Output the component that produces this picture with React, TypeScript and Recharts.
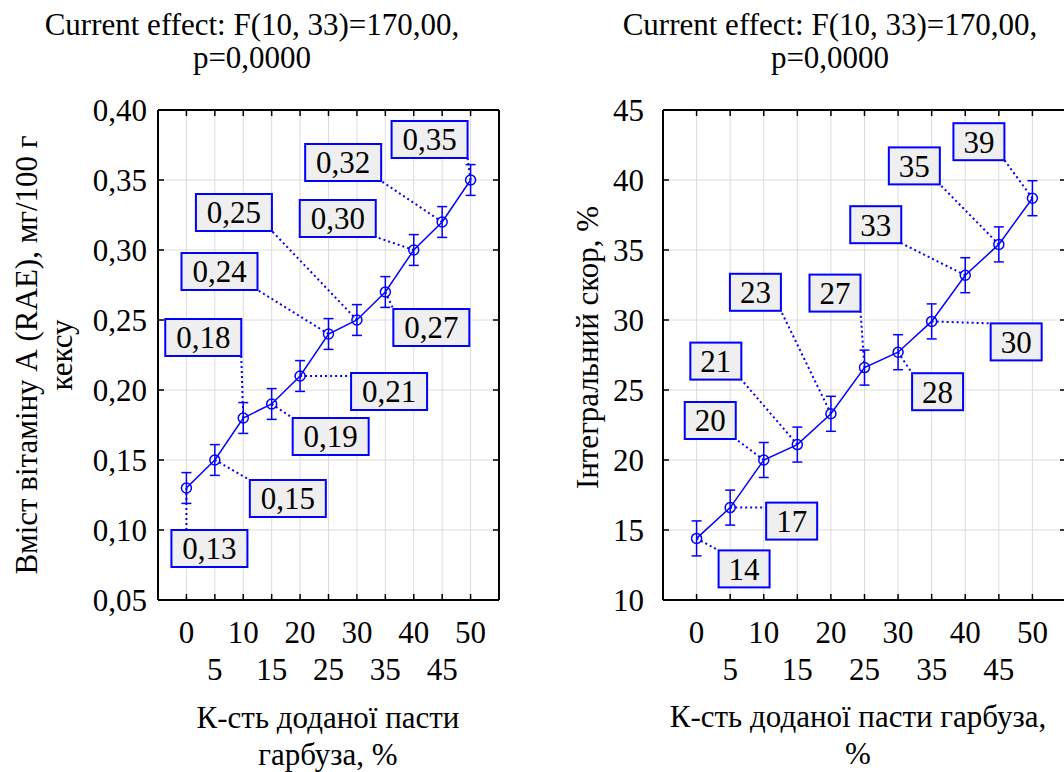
import {
  ComposedChart,
  Line,
  XAxis,
  YAxis,
  CartesianGrid,
  ErrorBar,
  LabelList,
} from "recharts";

const FONT = '"Liberation Serif", "Times New Roman", Times, "DejaVu Serif", serif';
const BLUE = "#0000ff";

// shared x categories (% of pumpkin paste)
const X_TICKS = [0, 5, 10, 15, 20, 25, 30, 35, 40, 45, 50];

// left panel: vitamin A
const VIT_A = [0.13, 0.15, 0.18, 0.19, 0.21, 0.24, 0.25, 0.27, 0.3, 0.32, 0.35];
const VIT_A_ERR = [0.011, 0.011, 0.011, 0.011, 0.011, 0.011, 0.011, 0.011, 0.011, 0.011, 0.011];
const VIT_A_LABELS = ["0,13", "0,15", "0,18", "0,19", "0,21", "0,24", "0,25", "0,27", "0,30", "0,32", "0,35"];
const VIT_A_TICKS = [0.05, 0.1, 0.15, 0.2, 0.25, 0.3, 0.35, 0.4];

// right panel: integral score
const SCORE = [14.4, 16.6, 20.0, 21.1, 23.3, 26.6, 27.7, 29.9, 33.2, 35.4, 38.7];
const SCORE_ERR = [1.25, 1.25, 1.25, 1.25, 1.25, 1.25, 1.25, 1.25, 1.25, 1.25, 1.25];
const SCORE_LABELS = ["14", "17", "20", "21", "23", "27", "28", "30", "33", "35", "39"];
const SCORE_TICKS = [10, 15, 20, 25, 30, 35, 40, 45];

// callout box placement relative to each point (px)
const VIT_A_CALLOUTS = [
  [-15, 42], [35, 20], [-78, -99], [21, 14], [51, -3], [-147, -81],
  [-161, -126], [8, 17], [-114, -50], [-137, -78], [-79, -59],
];
const SCORE_CALLOUTS = [
  [22, 12], [36, -5], [-79, -58], [-107, -102], [-101, -140], [-55, -93],
  [14, 21], [59, 2], [-115, -69], [-110, -97], [-79, -75],
];

const BOX_H = 37;

const clamp = (v: number, lo: number, hi: number) => Math.max(lo, Math.min(hi, v));

function makeCallout(labels: string[], offsets: number[][], boxW: number) {
  return (props: any) => {
    const index = props.index;
    const px = props.x ?? props.viewBox?.x;
    const py = props.y ?? props.viewBox?.y;
    if (px == null || py == null || index == null) return null;
    const [dx, dy] = offsets[index];
    const bx = px + dx;
    const by = py + dy;
    const ex = clamp(px, bx, bx + boxW);
    const ey = clamp(py, by, by + BOX_H);
    return (
      <g>
        <line x1={px} y1={py} x2={ex} y2={ey} stroke={BLUE} strokeWidth={2} strokeDasharray="2 3" />
        <rect x={bx} y={by} width={boxW} height={BOX_H} fill="#efefef" stroke={BLUE} strokeWidth={2} />
        <text
          x={bx + boxW / 2}
          y={by + BOX_H / 2}
          dy="0.35em"
          textAnchor="middle"
          fontSize={31}
          fontFamily={FONT}
          fill="#000"
        >
          {labels[index]}
        </text>
      </g>
    );
  };
}

const BottomTick = (props: any) => {
  const { x, y, payload } = props;
  const i = X_TICKS.indexOf(payload.value);
  return (
    <g>
      <line x1={x} y1={y} x2={x} y2={y - 6} stroke="#000" strokeWidth={1.5} />
      <text x={x} y={y + (i % 2 ? 80 : 43)} textAnchor="middle" fontSize={31} fontFamily={FONT} fill="#000">
        {payload.value}
      </text>
    </g>
  );
};

const TopTick = (props: any) => (
  <line x1={props.x} y1={props.y} x2={props.x} y2={props.y + 6} stroke="#000" strokeWidth={1.5} />
);

const RightTick = (props: any) => (
  <line x1={props.x} y1={props.y} x2={props.x - 6} y2={props.y} stroke="#000" strokeWidth={1.5} />
);

const makeLeftTick = (gap: number, fmt: (v: number) => string) => (props: any) => {
  const { x, y, payload } = props;
  return (
    <g>
      <line x1={x} y1={y} x2={x + 6} y2={y} stroke="#000" strokeWidth={1.5} />
      <text x={x - gap} y={y} dy="0.35em" textAnchor="end" fontSize={31} fontFamily={FONT} fill="#000">
        {fmt(payload.value)}
      </text>
    </g>
  );
};

const Dot = (props: any) => {
  const { cx, cy } = props;
  if (cx == null || cy == null) return null;
  return <circle cx={cx} cy={cy} r={5} fill="none" stroke={BLUE} strokeWidth={1.5} />;
};

type PanelProps = {
  width: number;
  margin: { top: number; right: number; bottom: number; left: number };
  values: number[];
  errors: number[];
  labels: string[];
  callouts: number[][];
  boxW: number;
  yDomain: [number, number];
  yTicks: number[];
  yGap: number;
  yFmt: (v: number) => string;
};

function Panel(p: PanelProps) {
  const data = X_TICKS.map((x, i) => ({ x, y: p.values[i], err: p.errors[i] }));
  const axisLine = { stroke: "#000", strokeWidth: 2 };
  return (
    <ComposedChart width={p.width} height={772} data={data} margin={p.margin} style={{ fontFamily: FONT }}>
      <CartesianGrid xAxisId="b" yAxisId="l" stroke="#dcdcdc" strokeWidth={1} />
      <XAxis
        xAxisId="b"
        dataKey="x"
        type="number"
        domain={[-5, 55]}
        ticks={X_TICKS}
        allowDataOverflow
        height={1}
        tickSize={0}
        tickMargin={0}
        axisLine={axisLine}
        tickLine={false}
        tick={<BottomTick />}
        interval={0}
      />
      <XAxis
        xAxisId="t"
        orientation="top"
        dataKey="x"
        type="number"
        domain={[-5, 55]}
        ticks={X_TICKS}
        allowDataOverflow
        height={1}
        tickSize={0}
        tickMargin={0}
        axisLine={axisLine}
        tickLine={false}
        tick={<TopTick />}
        interval={0}
      />
      <YAxis
        yAxisId="l"
        type="number"
        domain={p.yDomain}
        ticks={p.yTicks}
        allowDataOverflow
        width={1}
        tickSize={0}
        tickMargin={0}
        axisLine={axisLine}
        tickLine={false}
        tick={makeLeftTick(p.yGap, p.yFmt)}
        interval={0}
      />
      <YAxis
        yAxisId="r"
        orientation="right"
        type="number"
        domain={p.yDomain}
        ticks={p.yTicks}
        allowDataOverflow
        width={1}
        tickSize={0}
        tickMargin={0}
        axisLine={axisLine}
        tickLine={false}
        tick={<RightTick />}
        interval={0}
      />
      <Line
        xAxisId="b"
        yAxisId="l"
        dataKey="y"
        stroke={BLUE}
        strokeWidth={1.5}
        dot={<Dot />}
        activeDot={false}
        isAnimationActive={false}
      >
        <ErrorBar dataKey="err" direction="y" width={5} stroke={BLUE} strokeWidth={1.5} isAnimationActive={false} />
        <LabelList dataKey="y" content={makeCallout(p.labels, p.callouts, p.boxW)} />
      </Line>
    </ComposedChart>
  );
}

const textBase = {
  position: "absolute" as const,
  fontFamily: FONT,
  fontSize: 31,
  color: "#000",
  textAlign: "center" as const,
  whiteSpace: "nowrap" as const,
};

export default function App() {
  return (
    <div
      style={{
        position: "fixed",
        left: 0,
        top: 0,
        width: 1064,
        height: 772,
        overflow: "hidden",
        background: "#fff",
      }}
    >
      <div style={{ position: "absolute", left: 0, top: 0 }}>
        <Panel
          width={532}
          margin={{ top: 109, right: 32, bottom: 171, left: 157 }}
          values={VIT_A}
          errors={VIT_A_ERR}
          labels={VIT_A_LABELS}
          callouts={VIT_A_CALLOUTS}
          boxW={76}
          yDomain={[0.05, 0.4]}
          yTicks={VIT_A_TICKS}
          yGap={11}
          yFmt={(v) => v.toFixed(2).replace(".", ",")}
        />
      </div>
      <div style={{ position: "absolute", left: 532, top: 0 }}>
        <Panel
          width={600}
          margin={{ top: 109, right: 65, bottom: 171, left: 130 }}
          values={SCORE}
          errors={SCORE_ERR}
          labels={SCORE_LABELS}
          callouts={SCORE_CALLOUTS}
          boxW={51}
          yDomain={[10, 45]}
          yTicks={SCORE_TICKS}
          yGap={19}
          yFmt={(v) => String(v)}
        />
      </div>

      {/* titles */}
      <div style={{ ...textBase, left: 252 - 300, top: 8, width: 600, lineHeight: "33px" }}>
        Current effect: F(10, 33)=170,00,
        <br />
        p=0,0000
      </div>
      <div style={{ ...textBase, left: 830 - 300, top: 8, width: 600, lineHeight: "33px" }}>
        Current effect: F(10, 33)=170,00,
        <br />
        p=0,0000
      </div>

      {/* x axis titles */}
      <div style={{ ...textBase, left: 328 - 300, top: 699, width: 600, lineHeight: "37px" }}>
        К-сть доданої пасти
        <br />
        гарбуза, %
      </div>
      <div style={{ ...textBase, left: 858 - 300, top: 698, width: 600, lineHeight: "37px" }}>
        К-сть доданої пасти гарбуза,
        <br />%
      </div>

      {/* y axis titles */}
      <div
        style={{
          ...textBase,
          left: 44 - 300,
          top: 355 - 35,
          width: 600,
          height: 70,
          lineHeight: "35px",
          transform: "rotate(-90deg)",
        }}
      >
        Вміст вітаміну А (RAE), мг/100 г
        <br />
        кексу
      </div>
      <div
        style={{
          ...textBase,
          left: 587 - 250,
          top: 347 - 17.5,
          width: 500,
          height: 35,
          lineHeight: "35px",
          transform: "rotate(-90deg)",
        }}
      >
        Інтегральний скор, %
      </div>
    </div>
  );
}
